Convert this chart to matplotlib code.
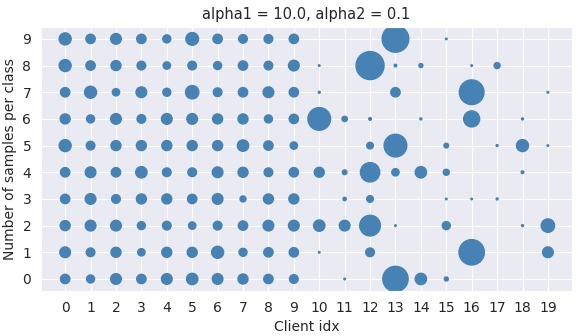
import numpy as np
import matplotlib
matplotlib.use("Agg")
import matplotlib.pyplot as plt
import seaborn as sns

sns.set_style("darkgrid")

# samples per class (rows: class 0..9) for each client (columns: 0..19)
clients = list(range(20))
classes = list(range(10))
samples = np.array([
    # 0    1    2    3    4    5    6    7    8    9   10   11    12    13   14   15    16   17   18   19
    [452, 332, 590, 452, 590, 666, 590, 518, 452, 389,   0,  14,    0, 3327, 666,  83,    0,   0,   0,   0],  # 0
    [590, 389, 518, 279, 518, 518, 746, 332, 452, 452,  14,   0,  389,    0,   0,   0, 3327,   0,   0, 590],  # 1
    [518, 590, 590, 332, 389, 279, 389, 452, 590, 590, 666, 590, 2214,   14,   0, 332,    0,   0,  21, 922],  # 2
    [452, 590, 389, 518, 518, 452, 590, 187, 518, 518,   0,  58,  230,    0,   0,  14,   14,  21,   0,   0],  # 3
    [452, 590, 452, 666, 389, 389, 590, 518, 389, 452, 518, 113, 1938,  279, 666, 187,    0,   0,  37,   0],  # 4
    [746, 389, 518, 518, 518, 518, 518, 666, 452, 279,   0,   0,  230, 2663,   0, 113,    0,  21, 746,  14],  # 5
    [518, 332, 590, 389, 590, 590, 518, 518, 332, 452, 2663, 147,  37,    0,  21,   0, 1327,   0,  21,   0],  # 6
    [452, 746, 279, 590, 332, 922, 389, 452, 590, 452,  21,   0,    0,  452,   0,   0, 3154,   0,   0,  14],  # 7
    [746, 452, 518, 389, 279, 389, 332, 452, 389, 590,  14,   0, 4064,   37,  83,   0,   14, 187,   0,   0],  # 8
    [746, 452, 590, 452, 332, 832, 452, 389, 389, 452,   0,   0,    0, 3686,   0,  14,    0,   0,   0,   0],  # 9
])

fig = plt.figure(figsize=(5.81, 3.36), dpi=100)
ax = fig.add_axes([0.0706, 0.134, 0.914, 0.786])

xs, ys = np.meshgrid(clients, classes)
ax.scatter(xs.ravel(), ys.ravel(), s=samples.ravel() / 10.0, color="steelblue")

ax.set_xticks(clients)
ax.set_yticks(classes)
ax.set_xlabel("Client idx")
ax.set_ylabel("Number of samples per class")
ax.set_title("alpha1 = 10.0, alpha2 = 0.1", fontsize=10.5)

fig.savefig("out.png", dpi=100)
